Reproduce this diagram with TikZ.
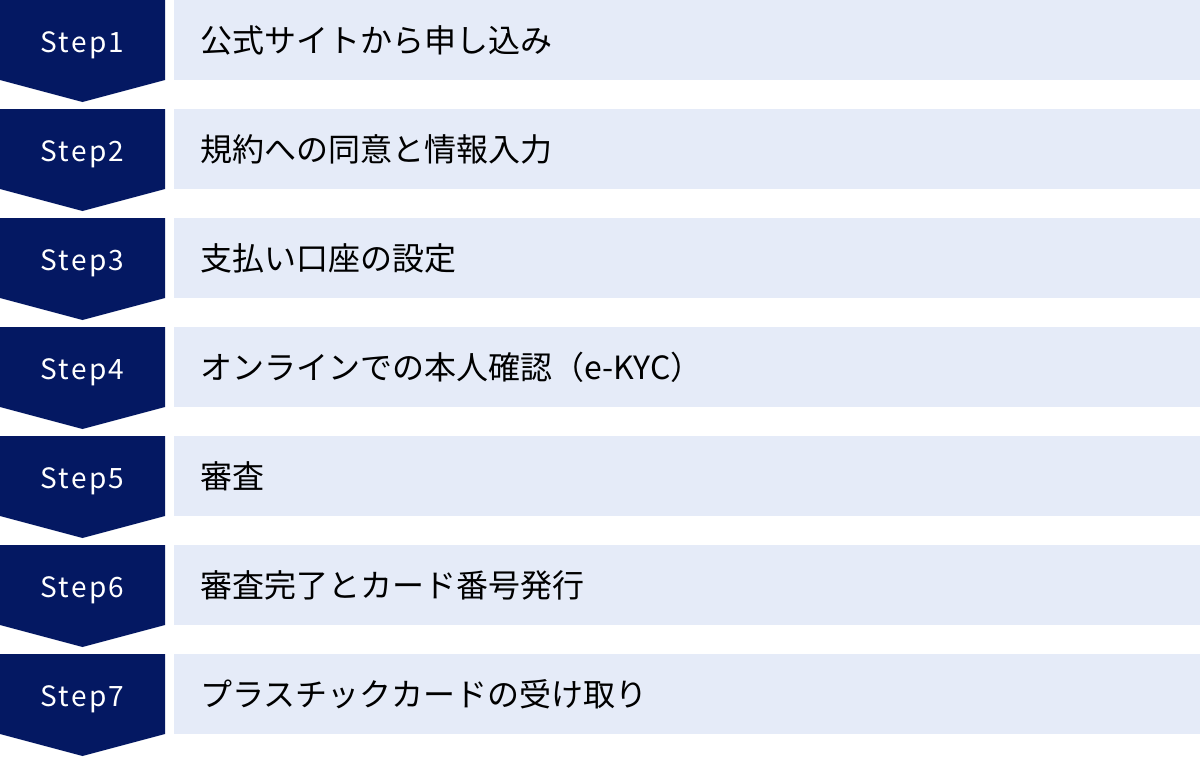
\documentclass[tikz,border=0pt]{standalone}
\usepackage{fontspec}
\setmainfont{Noto Sans CJK JP}
\newfontfamily\stepfont[LetterSpace=8]{Noto Sans CJK JP}
\definecolor{stepnavy}{HTML}{041862}
\definecolor{barblue}{HTML}{E5EBF8}

\begin{document}
\begin{tikzpicture}[x=1pt,y=-1pt,
  steplabel/.style={white,anchor=base,inner sep=0,font=\stepfont\fontsize{28}{28}\selectfont},
  tasklabel/.style={anchor=west,inner sep=0,font=\fontsize{32}{32}\selectfont}]
\useasboundingbox (0,0) rectangle (1200,756);

% step arrows and bars
\foreach \i/\txt in {1/公式サイトから申し込み,2/規約への同意と情報入力,3/支払い口座の設定,4/オンラインでの本人確認（e-KYC）,5/審査,6/審査完了とカード番号発行,7/プラスチックカードの受け取り} {
  \pgfmathsetmacro\rowtop{(\i-1)*109}
  \fill [stepnavy] (0,\rowtop) -- (165,\rowtop) -- (165,\rowtop+80) -- (82.5,\rowtop+102) -- (0,\rowtop+80) -- cycle;
  \fill [barblue] (174,\rowtop) rectangle (1200,\rowtop+80);
  \node [steplabel] (step\i) at (82.5,\rowtop+52) {Step\i};
  \node [tasklabel] (task\i) at (200,\rowtop+40) {\txt};
}

\end{tikzpicture}
\end{document}
